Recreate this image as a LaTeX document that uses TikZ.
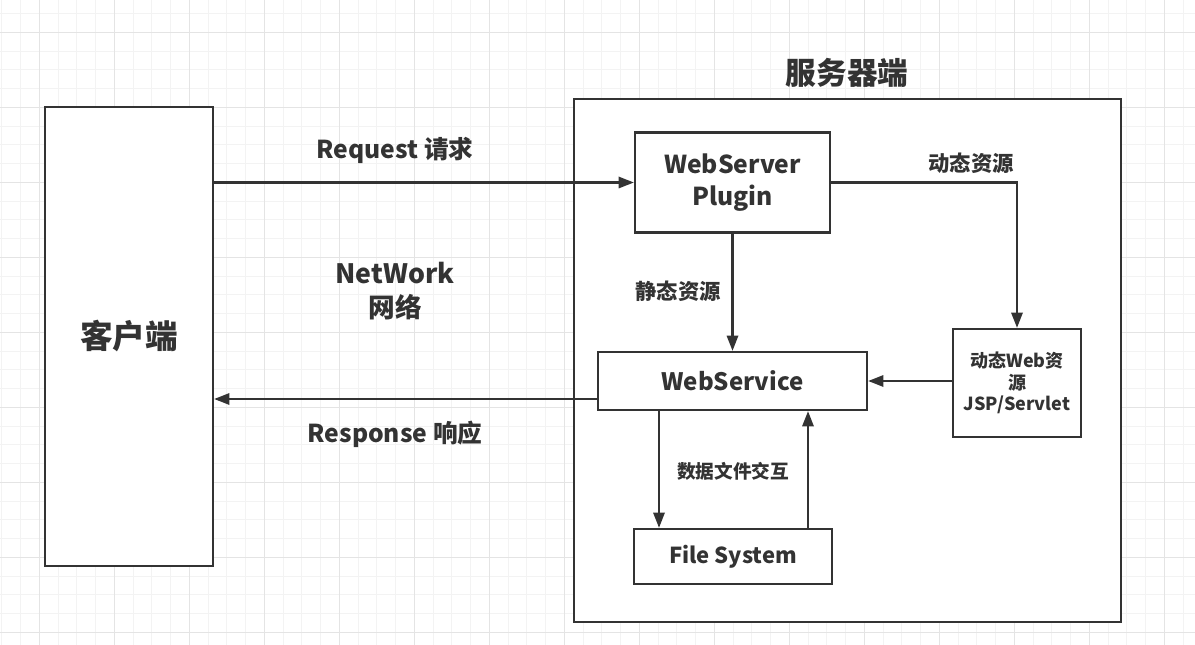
\documentclass[tikz,border=0pt]{standalone}
\usepackage{fontspec}
\setmainfont{Noto Sans CJK SC}
\usetikzlibrary{arrows.meta,calc}
\definecolor{ink}{HTML}{333333}
\definecolor{gridminor}{HTML}{F3F3F3}
\definecolor{gridmajor}{HTML}{E4E4E4}
\begin{document}
\begin{tikzpicture}[x=0.75pt,y=-0.75pt,
  box/.style={draw=ink,line width=1.7pt,fill=white,inner sep=0pt,text=ink,font=\bfseries,align=center},
  lbl/.style={text=ink,font=\bfseries,inner sep=0pt,align=center},
  arr/.style={draw=ink,line width=1.7pt,-{Triangle[length=11.5pt,width=8.5pt]}}]
\useasboundingbox (0,0) rectangle (1195,645);
\fill[white] (0,0) rectangle (1195,645);
% grid
\foreach \i in {0,...,63} {
  \pgfmathsetmacro{\gx}{1.8+18.75*\i}
  \draw[gridminor,line width=0.8pt] (\gx,0) -- (\gx,645);
}
\foreach \i in {0,...,34} {
  \pgfmathsetmacro{\gy}{13.55+18.75*\i}
  \draw[gridminor,line width=0.8pt] (0,\gy) -- (1195,\gy);
}
\foreach \i in {0,...,15} {
  \pgfmathsetmacro{\gx}{39.3+75*\i}
  \draw[gridmajor,line width=0.8pt] (\gx,0) -- (\gx,645);
}
\foreach \i in {0,...,8} {
  \pgfmathsetmacro{\gy}{32.3+75*\i}
  \draw[gridmajor,line width=0.8pt] (0,\gy) -- (1195,\gy);
}
% boxes
\node[box,minimum width=126pt,minimum height=344.25pt,font=\bfseries\fontsize{24.5}{28}\selectfont] (client) at (129,336.5) {\raisebox{-2pt}{客户端}};
\node[box,minimum width=410.25pt,minimum height=392.25pt] (server) at (847.5,360.5) {};
\node[lbl,font=\bfseries\fontsize{23}{26}\selectfont] (title) at (847,73) {服务器端};
\node[box,minimum width=146.25pt,minimum height=75pt,font=\bfseries\fontsize{18.5}{24}\selectfont] (wsp) at (732.5,182.5) {WebServer\\Plugin};
\node[box,minimum width=201.75pt,minimum height=43.5pt,font=\bfseries\fontsize{18}{22}\selectfont] (ws) at (732.5,381) {WebService};
\node[box,minimum width=96pt,minimum height=81pt,font=\bfseries\fontsize{13.5}{16.2}\selectfont] (dyn) at (1017,383) {动态Web资\\源\\JSP/Servlet};
\node[box,minimum width=148.5pt,minimum height=41.25pt,font=\bfseries\fontsize{16.5}{20}\selectfont] (fs) at (733,556.5) {File System};
% labels
\node[lbl,font=\bfseries\fontsize{18.5}{22}\selectfont] (req) at (395,150) {Request 请求};
\node[lbl,font=\bfseries\fontsize{20}{26}\selectfont] (net) at (395,291) {NetWork\\网络};
\node[lbl,font=\bfseries\fontsize{18.5}{22}\selectfont] (resp) at (395,434) {Response 响应};
\node[lbl,font=\bfseries\fontsize{16}{20}\selectfont] (stat) at (678,291) {静态资源};
\node[lbl,font=\bfseries\fontsize{16}{20}\selectfont] (dynl) at (971,163) {动态资源};
\node[lbl,font=\bfseries\fontsize{14}{18}\selectfont] (xchg) at (733,471) {数据文件交互};
% connectors
\draw[arr] (wsp.west -| client.east) -- (wsp.west);
\draw[arr] ([yshift=-13.5pt]ws.west) -- ([yshift=-13.5pt]ws.west -| client.east);
\draw[arr] (wsp.east) -- (wsp.east -| dyn.north) -- (dyn.north);
\draw[arr] (wsp.south) -- (ws.north);
\draw[arr] (dyn.west |- ws.east) -- (ws.east);
\coordinate (dn) at ($(ws.south)+(-73.5,0)$);
\coordinate (up) at ($(ws.south)+(75.5,0)$);
\draw[arr] (dn) -- (dn |- fs.north);
\draw[arr] (up |- fs.north) -- (up);
\end{tikzpicture}
\end{document}
